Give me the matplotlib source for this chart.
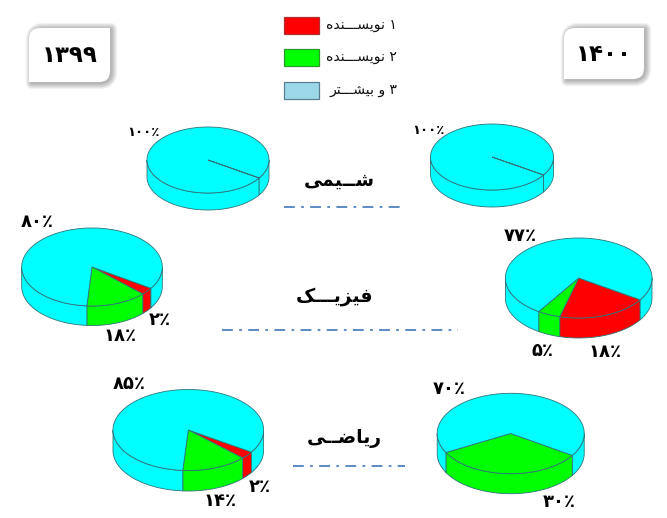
import numpy as np
import matplotlib
matplotlib.use("Agg")
import matplotlib.pyplot as plt
from matplotlib.patches import Polygon, PathPatch, Rectangle
from matplotlib.path import Path

# slice sizes as drawn in the picture: 1 author, 2 authors, 3 or more
chem_99 = [0, 0, 100]
chem_00 = [0, 0, 100]
phys_99 = [3, 14, 83]
phys_00 = [20, 5, 75]
math_99 = [3, 14, 83]
math_00 = [0, 33, 67]

subjects = ["شــیمی", "فیزیـــک", "ریاضــی"]
legend_labels = ["۱ نویســـنده", "۲ نویســـنده", "۳ و بیشـــتر"]
years = ["۱۳۹۹", "۱۴۰۰"]

label_chem_99 = ["۱۰۰٪"]
label_chem_00 = ["۱۰۰٪"]
label_phys_99 = ["۸۰٪", "۱۸٪", "۲٪"]
label_phys_00 = ["۷۷٪", "۵٪", "۱۸٪"]
label_math_99 = ["۸۵٪", "۱۴٪", "۲٪"]
label_math_00 = ["۷۰٪", "۳۰٪"]

COLORS = ["#ff0000", "#00ff00", "#00ffff"]
EDGE = "#2f7478"
LEGEND_COLORS = ["#ff0000", "#00ff00", "#9bd8ea"]
LEGEND_EDGES = ["#b03030", "#2c9a2c", "#5a7f90"]
LINE = "#4f81bd"

# isolated, final, initial, medial
FORMS = {
    "ن": "\ufee5\ufee6\ufee7\ufee8", "ی": "\ufbfc\ufbfd\ufbfe\ufbff",
    "س": "\ufeb1\ufeb2\ufeb3\ufeb4", "ه": "\ufee9\ufeea\ufeeb\ufeec",
    "ب": "\ufe8f\ufe90\ufe91\ufe92", "ش": "\ufeb5\ufeb6\ufeb7\ufeb8",
    "ت": "\ufe95\ufe96\ufe97\ufe98", "م": "\ufee1\ufee2\ufee3\ufee4",
    "ف": "\ufed1\ufed2\ufed3\ufed4", "ک": "\ufb8e\ufb8f\ufb90\ufb91",
    "ض": "\ufebd\ufebe\ufebf\ufec0", "ـ": "\u0640\u0640\u0640\u0640",
    "و": "\ufeed\ufeee", "د": "\ufea9\ufeaa", "ر": "\ufead\ufeae",
    "ز": "\ufeaf\ufeb0", "ا": "\ufe8d\ufe8e",
}


def shape(s):
    # matplotlib has no arabic shaping, so pick the forms and reverse by hand
    out = []
    for i, c in enumerate(s):
        if c not in FORMS:
            out.append(c)
            continue
        prev_c = s[i - 1] if i > 0 else " "
        next_c = s[i + 1] if i < len(s) - 1 else " "
        joins_prev = prev_c in FORMS and len(FORMS[prev_c]) == 4
        joins_next = next_c in FORMS and len(FORMS[c]) == 4
        if joins_prev and joins_next:
            out.append(FORMS[c][3])
        elif joins_prev:
            out.append(FORMS[c][1])
        elif joins_next:
            out.append(FORMS[c][2])
        else:
            out.append(FORMS[c][0])
    return "".join(out[::-1])


def arc(cx, cy, rx, ry, a, b, drop=0):
    t = np.radians(np.linspace(a, b, max(int(abs(b - a)), 2)))
    return np.column_stack([cx + rx * np.cos(t), cy - ry * np.sin(t) + drop])


def draw_pie(ax, values, cx, cy, rx, ry, depth, start=-33):
    fracs = np.array(values) / sum(values) * 360
    angles = start - np.concatenate([[0], np.cumsum(fracs)])
    # side wall first, only the front half shows
    for i, color in enumerate(COLORS):
        hi, lo = angles[i], angles[i + 1]
        if hi == lo:
            continue
        for k in (0, -360):
            a, b = min(hi, k), max(lo, k - 180)
            if a <= b:
                continue
            top = arc(cx, cy, rx, ry, a, b)
            bottom = arc(cx, cy, rx, ry, b, a, depth)
            ax.add_patch(Polygon(np.vstack([top, bottom]), fc=color, ec=EDGE, lw=0.6))
    for i, color in enumerate(COLORS):
        hi, lo = angles[i], angles[i + 1]
        if hi == lo:
            continue
        pts = np.vstack([[cx, cy], arc(cx, cy, rx, ry, hi, lo)])
        ax.add_patch(Polygon(pts, fc=color, ec=EDGE, lw=0.6))


def box_path(x0, y0, x1, y1, r=11):
    verts = [(x0, y0 + r), (x0, y0), (x0 + r, y0), (x1, y0), (x1, y1 - r),
             (x1, y1), (x1 - r, y1), (x0, y1), (x0, y0 + r)]
    codes = [Path.MOVETO, Path.CURVE3, Path.CURVE3, Path.LINETO, Path.LINETO,
             Path.CURVE3, Path.CURVE3, Path.LINETO, Path.CLOSEPOLY]
    return Path(verts, codes)


def draw_year(ax, text, x0, y0, x1, y1):
    # soft shadow from stacked see-through strokes, pushed to the right
    for lw in np.arange(1, 10, 1.0):
        ax.add_patch(PathPatch(box_path(x0 + 3, y0 + 1, x1 + 1, y1 + 1), fc="none", ec="#000000",
                               lw=lw, alpha=0.035, joinstyle="round"))
    ax.add_patch(PathPatch(box_path(x0, y0, x1, y1), fc="#ffffff", ec="none"))
    ax.text((x0 + x1) / 2, (y0 + y1) / 2 + 1, text, fontsize=16.5, fontweight="bold",
            ha="center", va="center", color="#000000")


plt.rcParams["font.family"] = ["DejaVu Sans"]
fig = plt.figure(figsize=(6.67, 5.18), dpi=100)
ax = fig.add_axes([0, 0, 1, 1])
ax.set_xlim(0, 667)
ax.set_ylim(518, 0)
ax.axis("off")

draw_year(ax, years[0], 29, 28, 110, 82)
draw_year(ax, years[1], 564, 28, 644, 79)

# legend
for i, y in enumerate([17, 49, 81.5]):
    ax.add_patch(Rectangle((283.5, y), 35, 17, fc=LEGEND_COLORS[i], ec=LEGEND_EDGES[i], lw=0.9))
    ax.text(397, y + 8.5, shape(legend_labels[i]), fontsize=10, ha="right", va="center", color="#111111")

draw_pie(ax, chem_99, 208, 160, 61, 33, 17)
draw_pie(ax, chem_00, 492, 157, 61.5, 33, 17)
draw_pie(ax, phys_99, 92, 267, 70.3, 39, 19.5)
draw_pie(ax, phys_00, 578.7, 278, 73.3, 40, 20)
draw_pie(ax, math_99, 188.3, 430, 75.3, 40.5, 20.5)
draw_pie(ax, math_00, 510.7, 433.5, 73.5, 40.2, 20)

# subject names and the dash-dot rules under them
for name, x, y in zip(subjects, [339, 334.5, 344], [180, 297, 438]):
    ax.text(x, y, shape(name), fontsize=13.5, fontweight="bold", ha="center", va="center", color="#000000")
for x0, x1, y in [(284, 402, 207), (222, 458, 330), (293, 405, 466)]:
    ax.plot([x0, x1], [y, y], color=LINE, lw=1.3, dashes=(6, 3.5, 1.5, 3.5))

pct_places = [
    (label_chem_99, [(143, 132)]),
    (label_chem_00, [(428, 130)]),
    (label_phys_99, [(37, 222), (120, 336), (160, 320)]),
    (label_phys_00, [(520, 236), (543, 351), (605, 352)]),
    (label_math_99, [(129, 384), (220, 501), (260, 487)]),
    (label_math_00, [(449, 389), (559, 502)]),
]
for labels, places in pct_places:
    for txt, (x, y) in zip(labels, places):
        size = 9.5 if txt == "۱۰۰٪" else 13
        ax.text(x, y, txt, fontsize=size, fontweight="bold", ha="center", va="center", color="#000000")

fig.savefig("out.png", dpi=100)
